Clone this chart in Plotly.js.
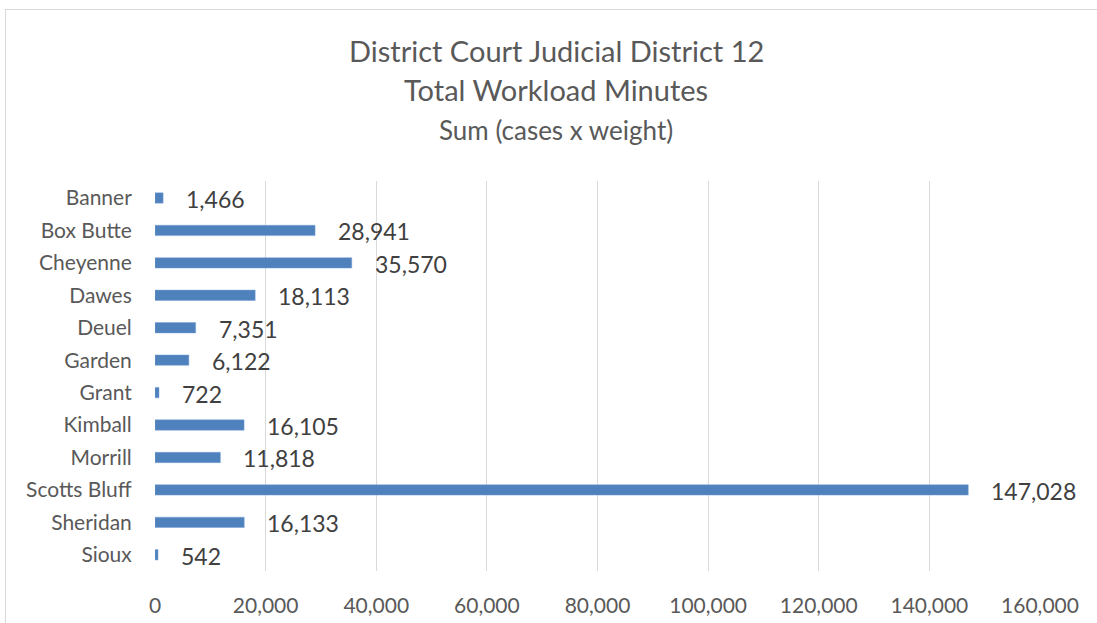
<!DOCTYPE html>
<html><head><meta charset="utf-8">
<script src="https://cdn.plot.ly/plotly-3.0.1.min.js"></script>
<style>
body{margin:0;padding:0;background:#fff;}
#wrap{position:relative;width:1097px;height:623px;}
#frame{position:absolute;left:5px;top:9px;width:1200px;height:700px;border:1px solid #d9d9d9;pointer-events:none;}
#chart{position:absolute;left:0;top:0;width:1097px;height:623px;}
</style></head>
<body><div id="wrap"><div id="chart"></div><div id="frame"></div></div>
<script>
const counties = ["Banner","Box Butte","Cheyenne","Dawes","Deuel","Garden","Grant","Kimball","Morrill","Scotts Bluff","Sheridan","Sioux"];
const minutes = [1466,28941,35570,18113,7351,6122,722,16105,11818,147028,16133,542];
const xTickVals = [0,20000,40000,60000,80000,100000,120000,140000,160000];
const xTickText = ["0","20,000","40,000","60,000","80,000","100,000","120,000","140,000","160,000"];
const titleLines = ["District Court Judicial District 12","Total Workload Minutes","Sum (cases x weight)"];

const FONT = "Lato, 'Open Sans', sans-serif";
const fmt = v => v.toLocaleString('en-US');

const trace = {
  type:'bar', orientation:'h', x:minutes, y:counties,
  marker:{color:'#4f81bd', line:{color:'#7ba3d6', width:0.5}},
  width:0.32, hoverinfo:'x+y'
};
const annotations = minutes.map((v,i)=>({
  x:v, y:counties[i], xref:'x', yref:'y', text:fmt(v), showarrow:false,
  xanchor:'left', yanchor:'middle', xshift:21, yshift:-1,
  font:{family:FONT, size:23, color:'#404040'}
}));
const titleY = [50, 90, 130];
const titleSize = [29, 29, 26];
titleLines.forEach((t,i)=>annotations.push({
  text:t, xref:'paper', yref:'paper', x:(556-155)/885, xanchor:'center', yanchor:'middle', showarrow:false,
  y: 1 + (181 - titleY[i]) / 390,
  font:{family:FONT, size:titleSize[i], color:'#595959'}
}));
const layout = {
  width:1097, height:623,
  margin:{l:155, r:57, t:181, b:52},
  paper_bgcolor:'rgba(0,0,0,0)', plot_bgcolor:'#fff',
  font:{family:FONT, color:'#595959'},
  xaxis:{range:[0,160000], tickvals:xTickVals, ticktext:xTickText, showgrid:true, gridcolor:'#d9d9d9', gridwidth:1,
    zeroline:false, showline:false, ticks:'outside', ticklen:16, tickcolor:'rgba(0,0,0,0)',
    tickfont:{family:FONT, size:21, color:'#595959'}, fixedrange:true},
  yaxis:{categoryorder:'array', categoryarray:counties, autorange:'reversed', showgrid:false, zeroline:false, showline:false,
    ticks:'outside', ticklen:18, tickcolor:'rgba(0,0,0,0)', tickfont:{family:FONT, size:21, color:'#595959'}, fixedrange:true},
  annotations:annotations, showlegend:false
};
Plotly.newPlot('chart',[trace],layout,{displayModeBar:false, staticPlot:true});
</script></body></html>
